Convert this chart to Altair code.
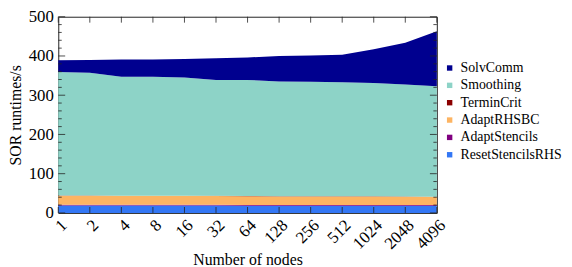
import altair as alt
import pandas as pd

nodes = ["1", "2", "4", "8", "16", "32", "64", "128", "256", "512", "1024", "2048", "4096"]
reset_stencils_rhs = [19, 19, 19, 19, 19, 19, 18.5, 18.5, 18.5, 18.5, 18.5, 18.5, 18.5]
adapt_stencils = [1.5] * 13
adapt_rhsbc = [23.5, 23.5, 23, 23, 23, 22.5, 22.5, 22, 22, 22, 22, 21.5, 21]
termin_crit = [0.5] * 13
smoothing_top = [359, 357, 347, 347, 345, 339, 339, 335, 334, 333, 331, 327, 323]
total_top = [389, 390, 391, 391, 392, 394, 396, 400, 401, 403, 417, 434, 463]

series_names = ["SolvComm", "Smoothing", "TerminCrit", "AdaptRHSBC", "AdaptStencils", "ResetStencilsRHS"]
series_colors = ["#00008F", "#8DD3C7", "#8B0000", "#FDB462", "#800080", "#3377F5"]
y_label_values = [0, 100, 200, 300, 400, 500]

rows = []
for i, n in enumerate(nodes):
    below = reset_stencils_rhs[i] + adapt_stencils[i] + adapt_rhsbc[i] + termin_crit[i]
    smoothing = smoothing_top[i] - below
    solv = total_top[i] - smoothing_top[i]
    vals = {
        "ResetStencilsRHS": reset_stencils_rhs[i],
        "AdaptStencils": adapt_stencils[i],
        "AdaptRHSBC": adapt_rhsbc[i],
        "TerminCrit": termin_crit[i],
        "Smoothing": smoothing,
        "SolvComm": solv,
    }
    for s, v in vals.items():
        rows.append({"nodes": n, "series": s, "value": v,
                     "order": len(series_names) - series_names.index(s)})
df = pd.DataFrame(rows)

W, H = 384, 199
FONT = "Liberation Serif"

xscale = alt.Scale(type="point", padding=0, domain=nodes)
yscale = alt.Scale(domain=[0, 500], nice=False)

xaxis = alt.Axis(title="Number of nodes", labelAngle=-45, labelAlign="right",
                 labelBaseline="top", ticks=False, domain=False,
                 labelPadding=4, titlePadding=0, labelOverlap=False)
yaxis = alt.Axis(title="SOR runtimes/s", values=y_label_values,
                 ticks=False, domain=False, labelPadding=5, titlePadding=5,
                 labelOverlap=False)

area = alt.Chart(df).mark_area().encode(
    x=alt.X("nodes:N", sort=nodes, scale=xscale, axis=xaxis),
    y=alt.Y("value:Q", stack="zero", scale=yscale, axis=yaxis),
    color=alt.Color("series:N", scale=alt.Scale(domain=series_names, range=series_colors),
                    legend=alt.Legend(title=None, orient="none", legendX=390, legendY=45,
                                      symbolType="square", symbolSize=30,
                                      labelFontSize=14, labelFont=FONT, rowPadding=3.6,
                                      symbolStrokeWidth=0)),
    order=alt.Order("order:Q"),
)

ytick_vals = list(range(0, 501, 20))
yt = pd.DataFrame({"value": ytick_vals, "major": [v % 100 == 0 for v in ytick_vals]})
yminor = yt[~yt["major"]]
ymajor = yt[yt["major"]]

def yticks(data, x0, x1):
    return alt.Chart(data).mark_rule(color="#222", strokeWidth=0.8).encode(
        y=alt.Y("value:Q", scale=yscale, axis=yaxis), x=alt.value(x0), x2=alt.value(x1))

xt = pd.DataFrame({"nodes": nodes})

def xticks(y0, y1):
    return alt.Chart(xt).mark_rule(color="#222", strokeWidth=0.8).encode(
        x=alt.X("nodes:N", sort=nodes, scale=xscale, axis=xaxis),
        y=alt.value(y0), y2=alt.value(y1))

chart = alt.layer(
    area,
    yticks(yminor, 0, 3.5), yticks(ymajor, 0, 7),
    yticks(yminor, W, W - 3.5), yticks(ymajor, W, W - 7),
    xticks(0, 6), xticks(H, H - 6),
).properties(
    width=W, height=H,
    autosize=alt.AutoSizeParams(type="none"),
    padding={"left": 51, "top": 7, "right": 129, "bottom": 53},
).configure_view(
    stroke="#222", strokeWidth=1
).configure_axis(
    labelFont=FONT, titleFont=FONT, labelFontSize=17, titleFontSize=16,
    labelColor="black", titleColor="black", titleFontWeight="normal", grid=False
).configure_legend(
    labelFont=FONT, labelColor="black"
)

chart.save("out.html", embed_options={"renderer": "svg", "actions": False})
